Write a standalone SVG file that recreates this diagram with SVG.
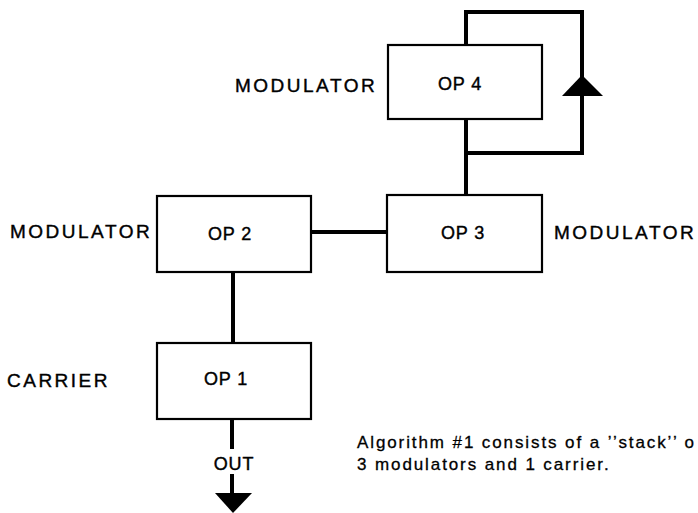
<svg xmlns="http://www.w3.org/2000/svg" width="698" height="513" viewBox="0 0 698 513">
<style>
.box{fill:#fff;stroke:#000;stroke-width:2.2}
.wire{fill:none;stroke:#000;stroke-width:4;stroke-linejoin:miter;stroke-linecap:butt}
.lbl{font-family:"Liberation Sans",Arial,sans-serif;font-size:19px;fill:#000;stroke:#000;stroke-width:0.4;letter-spacing:2.5px}
.op{font-family:"Liberation Sans",Arial,sans-serif;font-size:18px;fill:#000;stroke:#000;stroke-width:0.4;text-anchor:middle;letter-spacing:0.8px}
.cap{font-family:"Liberation Sans",Arial,sans-serif;font-size:17px;fill:#000;stroke:#000;stroke-width:0.3;letter-spacing:1.9px}
</style>
<rect width="698" height="513" fill="#fff"/>
<g id="connectors">
<path class="wire" d="M466,45 V12 H582 V153 H466 V119"/>
<path class="wire" d="M466,153 V195"/>
<path class="wire" d="M311,232 H387"/>
<path class="wire" d="M233,272 V343"/>
<path class="wire" d="M232,419 V449"/>
<path class="wire" d="M232,474 V494"/>
<polygon points="562,96 603,96 582,75" fill="#000"/>
<polygon points="215,493 252,493 233,513" fill="#000"/>
<text class="op" x="234" y="470">OUT</text>
</g>
<g id="op4">
<rect class="box" x="388" y="45" width="154" height="74"/>
<text class="op" x="460" y="90">OP 4</text>
<text class="lbl" x="235" y="92">MODULATOR</text>
</g>
<g id="op3">
<rect class="box" x="387" y="195" width="155" height="77"/>
<text class="op" x="463" y="239">OP 3</text>
<text class="lbl" x="554" y="239">MODULATOR</text>
</g>
<g id="op2">
<rect class="box" x="157" y="196" width="154" height="76"/>
<text class="op" x="230" y="240">OP 2</text>
<text class="lbl" x="10" y="238">MODULATOR</text>
</g>
<g id="op1">
<rect class="box" x="157" y="343" width="154" height="76"/>
<text class="op" x="226" y="385">OP 1</text>
<text class="lbl" x="7" y="387">CARRIER</text>
</g>
<g id="caption">
<text class="cap" x="357" y="448">Algorithm #1 consists of a ’’stack’’ o</text>
<text class="cap" x="357" y="470">3 modulators and 1 carrier.</text>
</g>
</svg>
